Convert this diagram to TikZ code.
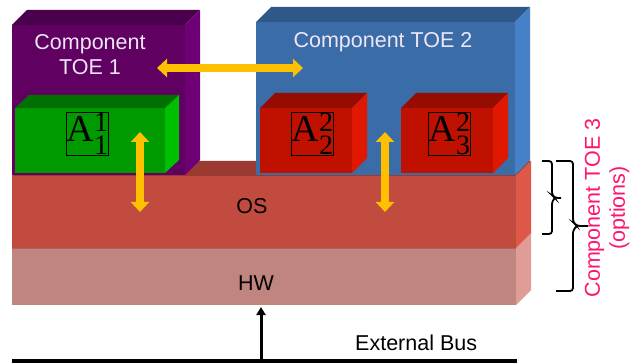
\documentclass[tikz,border=0pt]{standalone}
\usepackage{fontspec}
\setmainfont{Liberation Sans}
\newfontfamily\appfont{Liberation Serif}
\usepackage{xcolor}
\usepackage{tikz}
\usetikzlibrary{arrows.meta,positioning}

\definecolor{toeOneFront}{RGB}{96,0,96}
\definecolor{toeOneTop}{RGB}{74,0,76}
\definecolor{toeOneSide}{RGB}{110,0,118}
\definecolor{toeTwoFront}{RGB}{58,108,168}
\definecolor{toeTwoTop}{RGB}{47,88,138}
\definecolor{toeTwoSide}{RGB}{70,128,198}
\definecolor{appGreenFront}{RGB}{0,153,0}
\definecolor{appGreenTop}{RGB}{0,112,0}
\definecolor{appGreenSide}{RGB}{0,190,0}
\definecolor{appRedFront}{RGB}{192,16,0}
\definecolor{appRedTop}{RGB}{150,12,0}
\definecolor{appRedSide}{RGB}{224,24,0}
\definecolor{osFront}{RGB}{192,75,62}
\definecolor{osTop}{RGB}{155,58,48}
\definecolor{osSide}{RGB}{222,88,74}
\definecolor{hwFront}{RGB}{192,133,126}
\definecolor{hwSide}{RGB}{224,156,150}
\definecolor{hwEdge}{RGB}{160,104,98}
\definecolor{linkYellow}{RGB}{255,192,0}
\definecolor{toeLabel}{RGB}{238,230,246}
\definecolor{toeThree}{RGB}{255,20,110}

% application name: A with stacked super- and subscript
\newcommand{\appid}[2]{{\fontsize{38}{40}\selectfont A}%
  \makebox[0pt][l]{\raisebox{10pt}{\fontsize{28}{28}\selectfont #1}}%
  \raisebox{-13pt}{\fontsize{28}{28}\selectfont #2}}

\begin{document}
\begin{tikzpicture}[
  x=1pt,y=-1pt,
  front face/.style={anchor=north west,inner sep=0pt,outer sep=0pt},
  link/.style={{Triangle[length=10pt,width=18pt]}-{Triangle[length=10pt,width=18pt]},
    draw=linkYellow,line width=8pt},
  label text/.style={font=\fontsize{21.5}{25}\selectfont,align=center,inner sep=0pt},
  app label/.style={draw=black,line width=0.8pt,inner sep=0.5pt,font=\appfont},
  bus/.style={draw=black,line width=3.5pt},
  bus arrow/.style={-{Triangle[length=8pt,width=9pt]},draw=black,line width=3pt,
    shorten >=2pt},
  side brace/.style={draw=black,line width=1.8pt,rounded corners=3pt}
]
\useasboundingbox (0,0) rectangle (642,363);

% HW and OS layers.
\node[front face,fill=hwFront,minimum width=504,minimum height=57] (hw) at (12,248) {};
\fill[hwSide] (hw.north east) -- ++(15,-15) -- ++(0,57) -- (hw.south east) -- cycle;
\draw[hwEdge,line width=2pt] (hw.north west) -- (hw.north east);
\node[front face,fill=osFront,minimum width=504,minimum height=72] (os) at (12,176) {};
\fill[osTop] (os.north west) -- ++(15,-15) -- ++(504,0) -- (os.north east) -- cycle;
\fill[osSide] (os.north east) -- ++(15,-15) -- ++(0,72) -- (os.south east) -- cycle;

% Component TOE 1 with its application.
\node[front face,fill=toeOneFront,minimum width=173,minimum height=150] (toe1) at (12,25) {};
\fill[toeOneTop] (toe1.north west) -- ++(15,-15) -- ++(173,0) -- (toe1.north east) -- cycle;
\fill[toeOneSide] (toe1.north east) -- ++(15,-15) -- ++(0,150) -- (toe1.south east) -- cycle;
\node[front face,fill=appGreenFront,minimum width=150,minimum height=65] (a11) at (15,108) {};
\fill[appGreenTop] (a11.north west) -- ++(14,-13) -- ++(150,0) -- (a11.north east) -- cycle;
\fill[appGreenSide] (a11.north east) -- ++(14,-13) -- ++(0,65) -- (a11.south east) -- cycle;

% Component TOE 2 with its two applications.
\node[front face,fill=toeTwoFront,minimum width=259,minimum height=153] (toe2) at (256,22) {};
\fill[toeTwoTop] (toe2.north west) -- ++(15,-15) -- ++(259,0) -- (toe2.north east) -- cycle;
\fill[toeTwoSide] (toe2.north east) -- ++(15,-15) -- ++(0,153) -- (toe2.south east) -- cycle;
\node[front face,fill=appRedFront,minimum width=92,minimum height=65] (a22) at (260,108) {};
\fill[appRedTop] (a22.north west) -- ++(15,-15) -- ++(92,0) -- (a22.north east) -- cycle;
\fill[appRedSide] (a22.north east) -- ++(15,-15) -- ++(0,65) -- (a22.south east) -- cycle;
\node[front face,fill=appRedFront,minimum width=92,minimum height=65] (a32) at (401,108) {};
\fill[appRedTop] (a32.north west) -- ++(15,-15) -- ++(92,0) -- (a32.north east) -- cycle;
\fill[appRedSide] (a32.north east) -- ++(15,-15) -- ++(0,65) -- (a32.south east) -- cycle;

% Texts.
\node[label text,text=toeLabel] (toe1-label) at (90,54.5) {Component\\TOE 1};
\node[label text,text=toeLabel,anchor=base] (toe2-label) at (383,48) {Component TOE 2};
\node[label text,anchor=base] (os-label) at (252,214) {OS};
\node[label text,anchor=base] (hw-label) at (256,290) {HW};
\node[label text,anchor=base west] (bus-label) at (355,350) {External Bus};
\node[label text,text=toeThree,rotate=90] (toe3-label) at (607,208) {Component TOE 3\\(options)};
\node[app label] (a11-label) at (87.5,134) {\appid{1}{1}};
\node[app label] (a22-label) at (312.5,134) {\appid{2}{2}};
\node[app label] (a32-label) at (449.5,134) {\appid{2}{3}};

% Communication links.
\coordinate (bridge-west) at (157,68);
\coordinate (bridge-east) at (303,68);
\coordinate (app1-top) at (140,132);
\coordinate (app1-os) at (140,212);
\coordinate (app2-top) at (385,132);
\coordinate (app2-os) at (385,212);
\draw[link] (bridge-west) -- (bridge-east);
\draw[link] (app1-top) -- (app1-os);
\draw[link] (app2-top) -- (app2-os);

% External bus.
\coordinate (bus-west) at (12,361);
\coordinate (bus-east) at (517,361);
\coordinate (bus-tap) at (261,361);
\draw[bus] (bus-west) -- (bus-east);
\draw[bus arrow] (bus-tap) -- (bus-tap |- hw.south);

% Braces for TOE 3.
\draw[side brace] (542,161) -- (552,161) -- (552,195) -- (555,198) -- (561,198);
\draw[side brace] (542,234) -- (552,234) -- (552,201) -- (555,198);
\draw[side brace] (556,161) -- (573,161) -- (573,222) -- (577,226) -- (588,226);
\draw[side brace] (556,291) -- (573,291) -- (573,230) -- (577,226);

\end{tikzpicture}
\end{document}
